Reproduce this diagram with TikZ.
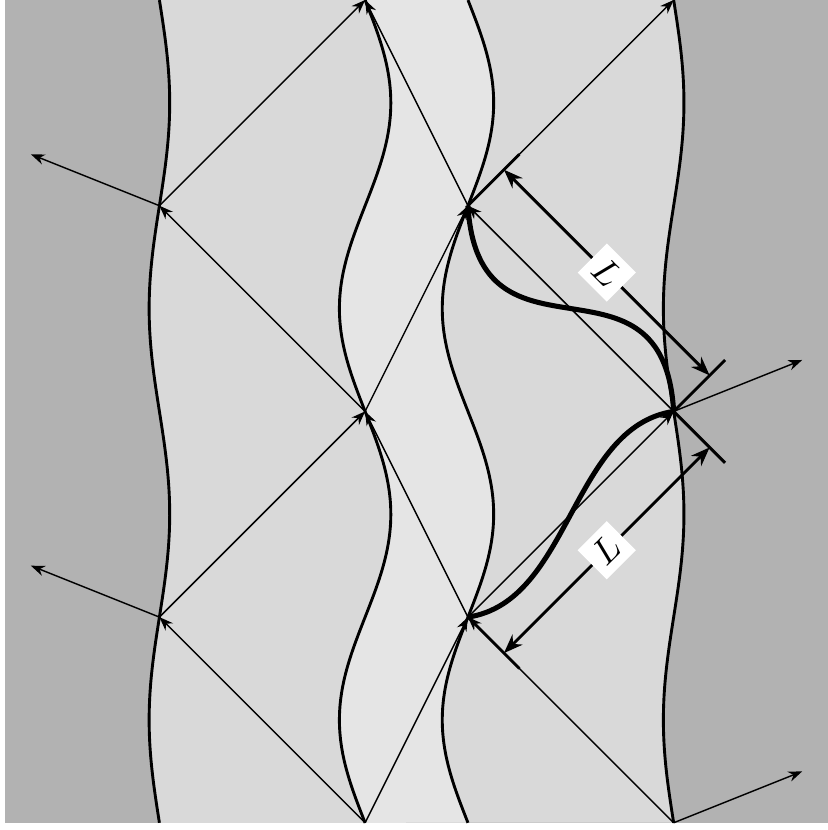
\documentclass[tikz,border=0pt]{standalone}
\usepackage{tikz}
\usetikzlibrary{arrows.meta}
\usepackage{amsmath}
\usepackage{amssymb}
\usepackage{xcolor}

\begin{document}
\begin{tikzpicture}[>={Stealth[scale=0.8]}]
	\useasboundingbox (-1.55,-0.07) rectangle (6.5,8);
	\fill[gray!60] (-1.5,0) rectangle (6.5,8);
	\fill[gray!30] plot[domain=0:8, samples=100, smooth, variable=\t] ({-0.1*sin(90*\t)}, \t) -- plot[domain=8:0, samples=100, smooth, variable=\t] ({5-0.1*sin(90*\t)}, \t) -- cycle;
	\fill[gray!20] plot[domain=0:8, samples=100, smooth, variable=\t] ({2-0.25*sin(90*\t)}, \t) -- plot[domain=8:0, samples=100, smooth, variable=\t] ({3-0.25*sin(90*\t)}, \t) -- cycle;

	\coordinate (A1) at (0,6);
	\coordinate (A2) at (0,2);
	\coordinate (B0) at (2,8);
	\coordinate (B1) at (2,4);
	\coordinate (B2) at (2,0);
	\coordinate (C1) at (3,6);
	\coordinate (C2) at (3,2);
	\coordinate (D0) at (5,8);
	\coordinate (D1) at (5,4);
	\coordinate (D2) at (5,0);
	\coordinate (outA1) at (-1.25,6.5);
	\coordinate (outA2) at (-1.25,2.5);
	\coordinate (outD1) at (6.25,4.5);
	\coordinate (outD2) at (6.25,0.5);

	\draw[->] (B2) -- (A2);
	\draw[->] (A2) -- (B1);
	\draw[->] (B1) -- (A1);
	\draw[->] (A1) -- (B0);
	\draw[->] (A1) -- (outA1);
	\draw[->] (A2) -- (outA2);
	\draw[->] (B2) -- (C2);
	\draw[->] (D2) -- (C2);
	\draw[->] (C2) -- (B1);
	\draw[->] (C2) -- (D1);
	\draw[->] (B1) -- (C1);
	\draw[->] (D1) -- (C1);
	\draw[->] (C1) -- (B0);
	\draw[->] (C1) -- (D0);
	\draw[->] (D1) -- (outD1);
	\draw[->] (D2) -- (outD2);

	\foreach \xpos/\amp in {0/0.1, 2/0.25, 3/0.25, 5/0.1}
		\draw[thick, domain=0:8, samples=100, smooth, variable=\t] plot ({\xpos-\amp*sin(90*\t)}, \t);

	\draw[line width=1.4pt] (C1) .. controls (3.1,4.3) and (4.9,5.7) .. (D1);
	\draw[line width=1.4pt] (C2) .. controls (4,2.15) and (4,3.85) .. (D1);

	\coordinate (tickC1) at (3.5,6.5);
	\coordinate (tickC2) at (3.5,1.5);
	\coordinate (tickD1a) at (5.5,4.5);
	\coordinate (tickD1b) at (5.5,3.5);
	\draw[thick] (C1) -- (tickC1);
	\draw[thick] (C2) -- (tickC2);
	\draw[thick] (tickD1a) -- (D1) -- (tickD1b);

	\coordinate (upL1) at (3.35,6.35);
	\coordinate (upL2) at (5.35,4.35);
	\coordinate (lowL1) at (3.35,1.65);
	\coordinate (lowL2) at (5.35,3.65);
	\draw[thick, <->] (upL1) -- (upL2) node[midway, sloped, fill=white, minimum size=4mm, inner sep=0pt] (upL) {$L$};
	\draw[thick, <->] (lowL1) -- (lowL2) node[midway, sloped, fill=white, minimum size=4mm, inner sep=0pt] (lowL) {$L$};
\end{tikzpicture}
\end{document}
